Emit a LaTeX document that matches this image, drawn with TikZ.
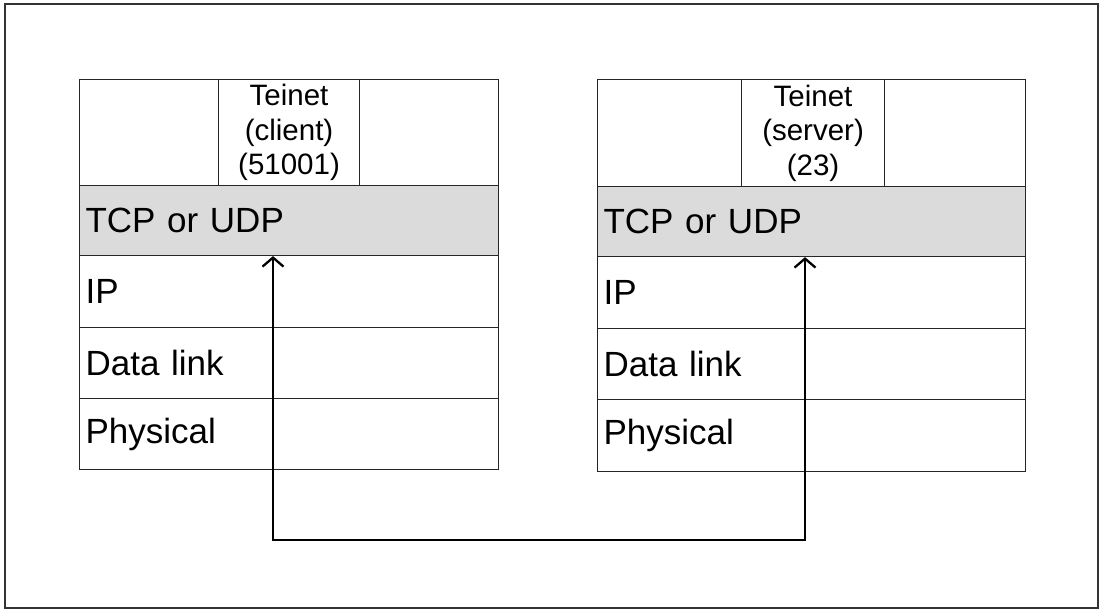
\documentclass[tikz,border=0pt]{standalone}
\usepackage{fontspec}
\setmainfont{Liberation Sans}
\usetikzlibrary{arrows.meta}
\newcommand\layerfont{\fontsize{35}{40}\selectfont\spaceskip=0.17em\relax}
\tikzset{
  layer/.style={draw=black!85, line width=1.1pt, anchor=north west, inner xsep=6pt, inner ysep=0pt,
    align=left, font=\layerfont},
  appcell/.style={draw=black!85, line width=1.1pt, anchor=north west, inner sep=0pt, align=center,
    font=\fontsize{29.5}{34.5}\selectfont},
  gray layer/.style={layer, fill=black!14},
  link/.style={line width=2.3pt, {Straight Barb[length=9pt,width=21pt]}-{Straight Barb[length=9pt,width=21pt]}},
}
\begin{document}
\begin{tikzpicture}[x=1pt, y=-1pt]
  \useasboundingbox (0,0) rectangle (1101,610);
  % outer frame
  \draw[line width=1.6pt, black!80] (5,4) rectangle (1098,608);

  % client stack
  \node[appcell, minimum width=139pt, minimum height=106pt] (lappa) at (79,79) {};
  \node[appcell, minimum width=141pt, minimum height=106pt] (lapp) at (218,79) {Teinet\\(client)\\(51001)};
  \node[appcell, minimum width=139pt, minimum height=106pt] (lappb) at (359,79) {};
  \node[gray layer, minimum width=419pt, minimum height=70pt, text width=407pt] (ltcp) at (79,185) {TCP or UDP};
  \node[layer, minimum width=419pt, minimum height=72pt, text width=407pt] (lip) at (79,255) {IP};
  \node[layer, minimum width=419pt, minimum height=71pt, text width=407pt] (ldl) at (79,327) {Data link};
  \node[layer, minimum width=419pt, minimum height=71pt, text width=407pt] (lph) at (79,398) {Physical};

  % server stack
  \node[appcell, minimum width=144pt, minimum height=107pt] (rappa) at (597,79) {};
  \node[appcell, minimum width=143pt, minimum height=107pt] (rapp) at (741,79) {Teinet\\(server)\\(23)};
  \node[appcell, minimum width=141pt, minimum height=107pt] (rappb) at (884,79) {};
  \node[gray layer, minimum width=428pt, minimum height=70pt, text width=416pt] (rtcp) at (597,186) {TCP or UDP};
  \node[layer, minimum width=428pt, minimum height=72pt, text width=416pt] (rip) at (597,256) {IP};
  \node[layer, minimum width=428pt, minimum height=71pt, text width=416pt] (rdl) at (597,328) {Data link};
  \node[layer, minimum width=428pt, minimum height=72pt, text width=416pt] (rph) at (597,399) {Physical};

  % connection between the two transport layers
  \coordinate (lb) at (273,540);
  \coordinate (rb) at (805,540);
  \draw[link] (lb |- ltcp.south) -- (lb) -- (rb) -- (rb |- rtcp.south);
\end{tikzpicture}
\end{document}
